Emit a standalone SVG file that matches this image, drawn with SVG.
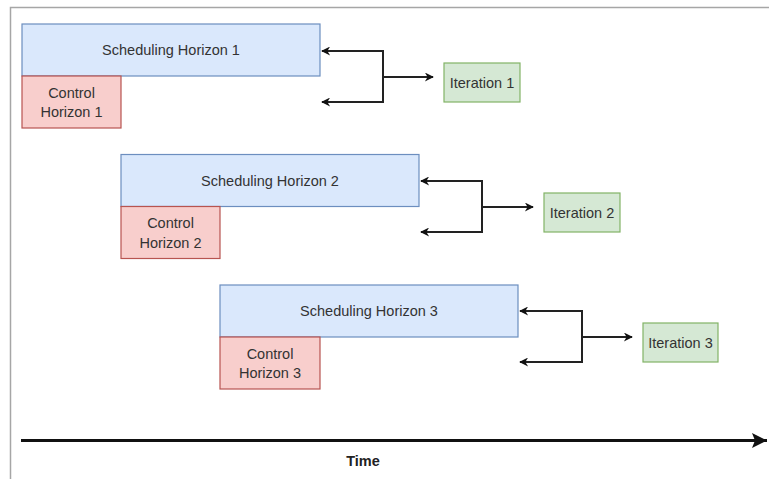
<svg xmlns="http://www.w3.org/2000/svg" width="769" height="479" viewBox="0 0 769 479">
  <style>
    .sched { fill: #dae8fc; stroke: #6c8ebf; stroke-width: 1.2; }
    .ctrl { fill: #f8cecc; stroke: #b85450; stroke-width: 1.2; }
    .iter { fill: #d5e8d4; stroke: #82b366; stroke-width: 1.2; }
    .lbl { font-family: "Liberation Sans", Arial, sans-serif; font-size: 14.5px; fill: #333333; text-anchor: middle; }
    .conn { fill: none; stroke: #222222; stroke-width: 2; }
    .frame { fill: none; stroke: #a6a6a6; stroke-width: 1.5; }
  </style>
  <defs>
    <marker id="arrow" viewBox="0 0 10 10" refX="9" refY="5" markerWidth="10" markerHeight="9" markerUnits="userSpaceOnUse" orient="auto">
      <path d="M0,0 L10,5 L0,10 L3,5 Z" fill="#111111"/>
    </marker>
    <marker id="axisHead" viewBox="0 0 10 10" refX="10" refY="5" markerWidth="15" markerHeight="17" markerUnits="userSpaceOnUse" orient="auto">
      <path d="M0,0 L10,5 L0,10 L2,5 Z" fill="#111111"/>
    </marker>
  </defs>

  <rect width="769" height="479" fill="#ffffff"/>

  <!-- page frame -->
  <path class="frame" d="M10.5,479 L10.5,7.5 L769,7.5"/>

  <!-- horizon set 1 -->
  <g id="sched1"><rect class="sched" x="22" y="24" width="298" height="52"/><text class="lbl" x="171" y="55">Scheduling Horizon 1</text></g>
  <g id="ctrl1"><rect class="ctrl" x="22" y="76" width="99" height="52"/><text class="lbl" x="71.5" y="97.5">Control</text><text class="lbl" x="71.5" y="117">Horizon 1</text></g>
  <g id="iter1"><rect class="iter" x="444" y="63" width="76" height="39"/><text class="lbl" x="482" y="87.5">Iteration 1</text></g>

  <!-- horizon set 2 -->
  <g id="sched2"><rect class="sched" x="121" y="154.5" width="298" height="52"/><text class="lbl" x="270" y="185.5">Scheduling Horizon 2</text></g>
  <g id="ctrl2"><rect class="ctrl" x="121" y="206.5" width="99" height="52"/><text class="lbl" x="170.5" y="228">Control</text><text class="lbl" x="170.5" y="247.5">Horizon 2</text></g>
  <g id="iter2"><rect class="iter" x="544" y="193" width="76" height="39"/><text class="lbl" x="582" y="217.5">Iteration 2</text></g>

  <!-- horizon set 3 -->
  <g id="sched3"><rect class="sched" x="220" y="285" width="298" height="52"/><text class="lbl" x="369" y="316">Scheduling Horizon 3</text></g>
  <g id="ctrl3"><rect class="ctrl" x="220" y="337" width="100" height="52"/><text class="lbl" x="270" y="358.5">Control</text><text class="lbl" x="270" y="378">Horizon 3</text></g>
  <g id="iter3"><rect class="iter" x="643" y="323" width="75" height="39"/><text class="lbl" x="680.5" y="347.5">Iteration 3</text></g>

  <!-- connectors -->
  <g id="connectors">
    <path class="conn" d="M383,77 L383,51 L322,51" marker-end="url(#arrow)"/>
    <path class="conn" d="M383,77 L383,102 L322,102" marker-end="url(#arrow)"/>
    <path class="conn" d="M383,77 L433,77" marker-end="url(#arrow)"/>

    <path class="conn" d="M482,207 L482,181 L421,181" marker-end="url(#arrow)"/>
    <path class="conn" d="M482,207 L482,232 L421,232" marker-end="url(#arrow)"/>
    <path class="conn" d="M482,207 L533,207" marker-end="url(#arrow)"/>

    <path class="conn" d="M582,337 L582,311 L520,311" marker-end="url(#arrow)"/>
    <path class="conn" d="M582,337 L582,362 L520,362" marker-end="url(#arrow)"/>
    <path class="conn" d="M582,337 L632,337" marker-end="url(#arrow)"/>

    <!-- time axis -->
    <path d="M21,440.5 L767,440.5" fill="none" stroke="#111111" stroke-width="3" marker-end="url(#axisHead)"/>
  </g>
  <text x="363" y="466" font-family="'Liberation Sans', Arial, sans-serif" font-size="14.5px" font-weight="bold" fill="#222222" text-anchor="middle">Time</text>
</svg>
